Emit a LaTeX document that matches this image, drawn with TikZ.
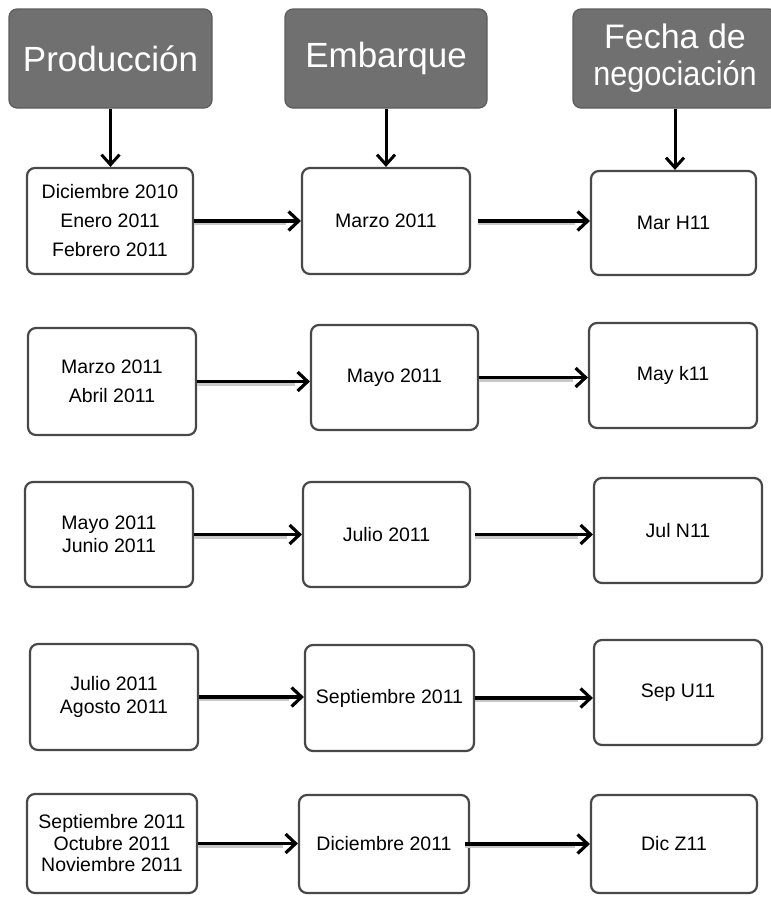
\documentclass[tikz,border=0pt]{standalone}
\usepackage{fontspec}
\setmainfont{Liberation Sans}
\usetikzlibrary{arrows.meta}
\definecolor{hdrfill}{RGB}{112,112,112}
\definecolor{hdrdraw}{RGB}{92,92,92}
\definecolor{celldraw}{RGB}{72,72,72}
\definecolor{shadowgray}{RGB}{200,200,200}
\begin{document}
\begin{tikzpicture}[x=1pt,y=-1pt,
  hdr/.style={draw=hdrdraw, fill=hdrfill, line width=1.2pt, rounded corners=8pt,
    text=white, font=\fontsize{35}{38}\selectfont, inner sep=0pt, align=center,
    minimum height=99pt},
  cell/.style={draw=celldraw, line width=2.2pt, rounded corners=8pt, fill=white,
    inner sep=0pt, align=center, font=\fontsize{19.5}{22.5}\selectfont},
  wide/.style={font=\fontsize{19.5}{29}\selectfont},
  tight/.style={font=\fontsize{19.5}{21.5}\selectfont},
  varr/.style={line width=3pt, -{Straight Barb[length=10pt,width=18pt]}},
  harr/.style={line width=3.2pt, -{Straight Barb[length=10pt,width=19pt]},
    preaction={draw=shadowgray, line width=2.5pt, -, shorten >=15pt,
      transform canvas={yshift=-3pt}}}
]
\useasboundingbox (0,0) rectangle (771,897);

% headers
\node[hdr, minimum width=203pt] (P) at (110.5,58.5) {Producción};
\node[hdr, minimum width=202pt] (E) at (386,58.5) {Embarque};
\node[hdr, minimum width=204pt, font=\fontsize{34}{37}\selectfont] (F) at (675,58.5)
  {Fecha de\\\scalebox{0.9}[1]{negociación}};

% row 1
\node[cell, wide, minimum width=166pt, minimum height=106pt] (a1) at (110,221)
  {Diciembre 2010\\Enero 2011\\Febrero 2011};
\node[cell, minimum width=168pt, minimum height=106pt] (b1) at (386,221) {Marzo 2011};
\node[cell, minimum width=165pt, minimum height=104pt] (c1) at (673.5,223) {Mar H11};

% row 2
\node[cell, wide, minimum width=168pt, minimum height=107pt] (a2) at (112,381.5)
  {Marzo 2011\\Abril 2011};
\node[cell, minimum width=167pt, minimum height=105pt] (b2) at (394.5,377.5) {Mayo 2011};
\node[cell, minimum width=168pt, minimum height=105pt] (c2) at (673,375.5) {May k11};

% row 3
\node[cell, minimum width=168pt, minimum height=105pt] (a3) at (109,534.5)
  {Mayo 2011\\Junio 2011};
\node[cell, minimum width=167pt, minimum height=105pt] (b3) at (386.5,534.5) {Julio 2011};
\node[cell, minimum width=168pt, minimum height=105pt] (c3) at (678,530.5) {Jul N11};

% row 4
\node[cell, minimum width=168pt, minimum height=106pt] (a4) at (114,697)
  {Julio 2011\\Agosto 2011};
\node[cell, minimum width=169pt, minimum height=106pt] (b4) at (389.5,698) {Septiembre 2011};
\node[cell, minimum width=168pt, minimum height=105pt] (c4) at (678,692.5) {Sep U11};

% row 5
\node[cell, tight, minimum width=170pt, minimum height=99pt] (a5) at (112,843.5)
  {Septiembre 2011\\Octubre 2011\\Noviembre 2011};
\node[cell, minimum width=170pt, minimum height=98pt] (b5) at (384,844) {Diciembre 2011};
\node[cell, minimum width=166pt, minimum height=98pt] (c5) at (674,844) {Dic Z11};

% vertical arrows
\draw[varr] (P.south) -- (P.south |- a1.north);
\draw[varr] (E.south) -- (E.south |- b1.north);
\draw[varr] (F.south) -- (F.south |- c1.north);

% horizontal arrows
\draw[harr] (a1.east) -- (a1.east -| b1.west);
\draw[harr, shorten <=7pt] (b1.east) -- (b1.east -| c1.west);
\draw[harr] (a2.east) -- (a2.east -| b2.west);
\draw[harr] (b2.east) -- (b2.east -| c2.west);
\draw[harr] (a3.east) -- (a3.east -| b3.west);
\draw[harr, shorten <=4pt] (b3.east) -- (b3.east -| c3.west);
\draw[harr] (a4.east) -- (a4.east -| b4.west);
\draw[harr] (b4.east) -- (b4.east -| c4.west);
\draw[harr] (a5.east) -- (a5.east -| b5.west);
\draw[harr, shorten <=-5pt] (b5.east) -- (b5.east -| c5.west);
\end{tikzpicture}
\end{document}
